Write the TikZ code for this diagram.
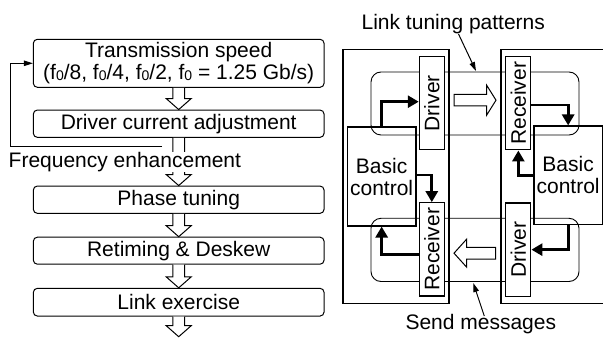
\documentclass[tikz,border=0pt]{standalone}
\usepackage{fontspec}
\setmainfont{Liberation Sans}
\usetikzlibrary{arrows.meta,calc}
\newcommand{\fsub}{f\raisebox{-0.6pt}{\fontsize{14}{14}\selectfont 0}}
\newcommand{\hollowdown}[2]{%
  \draw[hollow] let \p1=(#1), \p2=(#2) in
    (\x1-5.85pt,\y1) -- (\x1-5.85pt,\y2+11pt) -- (\x1-12.5pt,\y2+11pt) -- (\x1,\y2)
    -- (\x1+12.5pt,\y2+11pt) -- (\x1+5.85pt,\y2+11pt) -- (\x1+5.85pt,\y1);}
\begin{document}
\begin{tikzpicture}[x=1pt,y=-1pt,font=\fontsize{21}{22}\selectfont,
  flowbox/.style={draw,line width=1pt,rounded corners=4pt,minimum width=290.7pt,
    inner sep=0pt,align=center},
  hollow/.style={draw,line width=1pt,fill=white,line join=miter},
  thinarrow/.style={line width=1pt,-{Triangle[length=9pt,width=5.5pt]}},
  thickarrow/.style={line width=2.8pt,-{Triangle[length=11pt,width=12pt]}},
  board/.style={draw,line width=1.1pt},
  loopbox/.style={draw,line width=0.9pt,rounded corners=10pt},
  unitbox/.style={draw,line width=1.1pt,fill=white,minimum width=25pt,minimum height=93.3pt,inner sep=0pt},
  ctrlbox/.style={draw,line width=1.1pt,inner sep=0pt,align=center}]
\useasboundingbox (0,0) rectangle (603,339);
\clip (0,0) rectangle (603,339);

% ---------- left flow ----------
\node[flowbox,minimum height=48pt] (ts) at (178.7,63.3)
  {Transmission speed\\(\fsub/8, \fsub/4, \fsub/2, \fsub{} = 1.25 Gb/s)};
\node[flowbox,minimum height=27.3pt] (dca) at (178.7,123.7) {Driver current adjustment};
\node[flowbox,minimum height=27.3pt] (pt) at (178.7,199.7) {Phase tuning};
\node[flowbox,minimum height=27pt] (rd) at (178.7,250.7) {Retiming \& Deskew};
\node[flowbox,minimum height=27.7pt] (le) at (178.7,302.2) {Link exercise};
\coordinate (flowend) at (178.7,336.7);

\hollowdown{ts.south}{dca.north}
\hollowdown{dca.south}{pt.north}
\hollowdown{pt.south}{rd.north}
\hollowdown{rd.south}{le.north}
\hollowdown{le.south}{flowend}

\node[fill=white,inner sep=0pt,anchor=base west] (fe) at (8.5,167.3) {Frequency enhancement};
\coordinate (fbstart) at (162,146.7);
\draw[thinarrow] (fbstart) -- ++(-152,0) |- (ts.west);

% ---------- right: link tuning ----------
\draw[board] (343,49.3) rectangle (449,303.3);
\draw[board] (501,49.3) rectangle (640,303.3);
\draw[loopbox] (371,72) rectangle (579,135);
\draw[loopbox] (371,218.3) rectangle (579,281.5);

\node[ctrlbox,minimum width=68.7pt,minimum height=99pt] (bcl) at (381.65,176.5) {Basic\\control};
\node[ctrlbox,minimum width=68.3pt,minimum height=98.3pt] (bcr) at (568.15,175.15) {Basic\\control};

\node[unitbox] (drvtl) at (431.8,103.3) {\rotatebox{90}{Driver}};
\node[unitbox] (rcvtr) at (518.35,103.3) {\rotatebox{90}{Receiver}};
\node[unitbox] (rcvbl) at (431.8,249.35) {\rotatebox{90}{Receiver}};
\node[unitbox] (drvbr) at (518.35,249.65) {\rotatebox{90}{Driver}};

\draw[thickarrow] (bcl.north) |- ([yshift=1.6pt]drvtl.west);
\draw[thickarrow] ([yshift=-1.7pt]rcvtr.east) -| (bcr.north);
\draw[thickarrow] (bcr.west) -| (rcvtr.south);
\draw[thickarrow] ([yshift=1.5pt]bcl.east) -| (rcvbl.north);
\draw[thickarrow] ([yshift=-5pt]rcvbl.west) -| (bcl.south);
\draw[thickarrow] (bcr.south) |- (drvbr.east);

% hollow transfer arrows
\draw[hollow] (454,94.3) -- (486.5,94.3) -- (486.5,85) -- (496,100.2) -- (486.5,115.4) -- (486.5,106) -- (454,106) -- cycle;
\draw[hollow] (495.7,247.3) -- (466.5,247.3) -- (466.5,239.3) -- (454,253.2) -- (466.5,267) -- (466.5,259.2) -- (495.7,259.2) -- cycle;

% labels
\node[anchor=base,inner sep=0pt] (ltp) at (453.3,30) {Link tuning patterns};
\coordinate (ltpfrom) at (458.5,34);
\coordinate (ltpto) at (476,71);
\draw[thinarrow] (ltpfrom) -- (ltpto);

\node[anchor=base,inner sep=0pt] (smsg) at (480.8,330) {Send messages};
\coordinate (smfrom) at (484.3,316);
\coordinate (smto) at (473.3,283);
\draw[thinarrow] (smfrom) -- (smto);
\end{tikzpicture}
\end{document}
